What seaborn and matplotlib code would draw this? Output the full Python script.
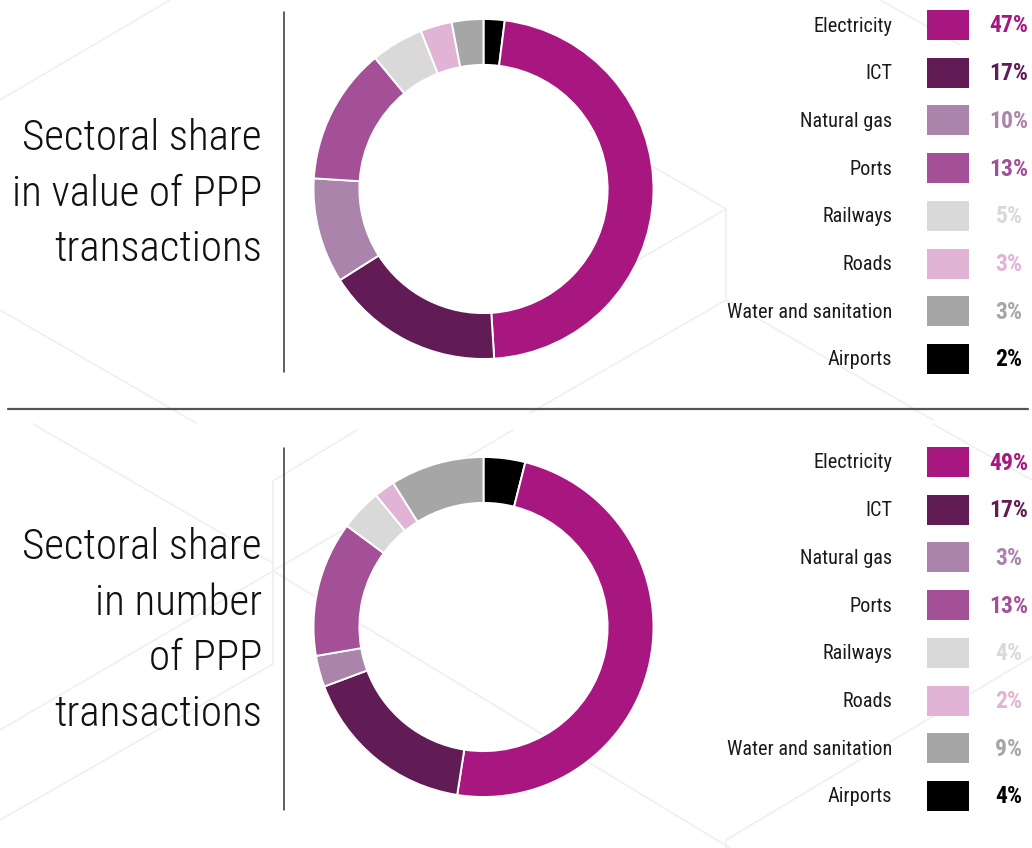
import matplotlib
matplotlib.use("Agg")
import matplotlib.pyplot as plt
from matplotlib.patches import Rectangle
import seaborn as sns

# ── Data ──────────────────────────────────────────────────────
SECTORS = ["Electricity", "ICT", "Natural gas", "Ports", "Railways",
           "Roads", "Water and sanitation", "Airports"]
VALUE_SHARE = [47, 17, 10, 13, 5, 3, 3, 2]
NUMBER_SHARE = [49, 17, 3, 13, 4, 2, 9, 4]
TITLES = ["Sectoral share\nin value of PPP\ntransactions",
          "Sectoral share\nin number\nof PPP\ntransactions"]

COLORS = ["#A8177F", "#621C55", "#AA84AA", "#A35096",
          "#D9D9D9", "#E1B4D5", "#A6A6A6", "#000000"]

# ── Setup ─────────────────────────────────────────────────────
sns.set_theme(style="white")
plt.rcParams["font.family"] = ["Roboto Condensed", "Archivo Narrow",
                               "Liberation Sans Narrow", "Roboto",
                               "DejaVu Sans"]
palette = sns.color_palette(COLORS)

W, H = 1032, 848
fig = plt.figure(figsize=(W / 100, H / 100), dpi=100)
fig.patch.set_facecolor("white")

# full-figure pixel axes for decoration and legend
bg = fig.add_axes([0, 0, 1, 1], zorder=0)
bg.set_xlim(0, W)
bg.set_ylim(H, 0)
bg.axis("off")

# faint hexagon pattern in the background
HEX_LINES = [
    ((0, 100), (170, 0)), ((0, 310), (196, 423)),
    ((726, 209), (726, 300)), ((726, 209), (590, 130)),
    ((726, 209), (560, 305)), ((726, 300), (530, 413)),
    ((726, 300), (933, 420)), ((880, 0), (960, 45)),
    ((273, 481), (273, 664)), ((33, 424), (273, 563)),
    ((273, 571), (0, 730)), ((273, 481), (357, 430)),
    ((273, 571), (513, 430)), ((273, 571), (730, 848)),
    ((273, 664), (0, 820)), ((933, 424), (1032, 480)),
    ((1032, 657), (726, 840)), ((726, 840), (726, 848)),
]
for (x1, y1), (x2, y2) in HEX_LINES:
    bg.plot([x1, x2], [y1, y2], color="#F0F0F0", lw=1.3, zorder=0)

# separators
bg.plot([8, 1028], [409, 409], color="#555555", lw=1.6)
bg.plot([284, 284], [12, 372], color="#333333", lw=1.1)
bg.plot([284, 284], [448, 810], color="#333333", lw=1.1)

# ── Panels ────────────────────────────────────────────────────
panels = [
    {"data": VALUE_SHARE, "title": TITLES[0], "cx": 483.5, "cy": 189,
     "title_y": 194, "leg_y0": 25},
    {"data": NUMBER_SHARE, "title": TITLES[1], "cx": 483.5, "cy": 627,
     "title_y": 631, "leg_y0": 462},
]
R = 170
STEP = 47.7

for p in panels:
    # title
    bg.text(262, p["title_y"], p["title"], ha="right", va="center",
            fontsize=31, fontweight="light", color="#111111",
            linespacing=1.45)

    # donut (starts at 12 o'clock with Airports, then clockwise)
    order = [7, 0, 1, 2, 3, 4, 5, 6]
    vals = [p["data"][i] for i in order]
    cols = [palette[i] for i in order]
    pad = 4
    ax = fig.add_axes([(p["cx"] - R - pad) / W, 1 - (p["cy"] + R + pad) / H,
                       2 * (R + pad) / W, 2 * (R + pad) / H], zorder=2)
    ax.pie(vals, colors=cols, startangle=90, counterclock=False,
           radius=R / (R + pad),
           wedgeprops={"width": 0.27 * R / (R + pad), "edgecolor": "white",
                       "linewidth": 1.4})
    ax.set_xlim(-1, 1)
    ax.set_ylim(-1, 1)
    ax.set_aspect("equal")
    ax.axis("off")

    # legend
    for i, (name, val) in enumerate(zip(SECTORS, p["data"])):
        y = p["leg_y0"] + i * STEP
        bg.text(892, y + 1, name, ha="right", va="center", fontsize=14.6,
                color="#1a1a1a")
        bg.add_patch(Rectangle((927, y - 15), 42, 30, facecolor=palette[i],
                               edgecolor="none"))
        bg.text(1009, y + 1, f"{val}%", ha="center", va="center", fontsize=17,
                fontweight="bold", color=palette[i])

fig.savefig("out.png", dpi=100, facecolor="white")
